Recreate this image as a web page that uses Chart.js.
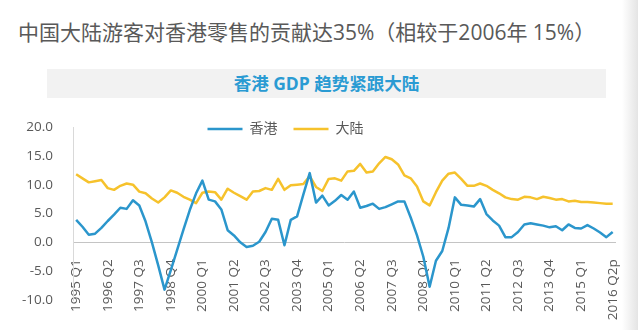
<!DOCTYPE html>
<html>
<head>
<meta charset="utf-8">
<script src="https://cdn.jsdelivr.net/npm/chart.js@4.4.1/dist/chart.umd.min.js"></script>
<style>
  html, body { margin: 0; padding: 0; background: #fff; width: 638px; height: 330px; overflow: hidden; }
  body { position: relative; font-family: 'Open Sans', 'Noto Sans CJK SC', sans-serif; }
  #headline { position: absolute; left: 18px; top: 17px; font-size: 21px; line-height: 30px; color: #595959; white-space: nowrap; }
  #titlebar { position: absolute; left: 47px; top: 69px; width: 559px; height: 29px; background: #f2f2f2;
              text-align: center; line-height: 29px; font-size: 17.5px; font-weight: bold; color: #2a9bd3; }
  #edge { position: absolute; right: 0; top: 0; width: 16px; height: 330px; background: linear-gradient(to right, #fff, #e4e4e4); }
  #wrap { position: absolute; left: 0; top: 60px; width: 638px; height: 270px; }
</style>
</head>
<body>
<div id="headline">中国大陆游客对香港零售的贡献达35%（相较于2006年 15%）</div>
<div id="titlebar">香港 GDP 趋势紧跟大陆</div>
<div id="edge"></div>
<div id="wrap"><canvas id="gdp-chart"></canvas></div>
<script>
// 季度实际 GDP 同比增长 (%)，1995 Q1 – 2016 Q2
const HK_GDP = [
  3.9, 2.7, 1.3, 1.5, 2.5, 3.7, 4.8, 6.0, 5.8, 7.3,
  6.4, 3.6, 0.0, -4.0, -8.2, -4.8, -1.3, 2.2, 5.6, 8.5,
  10.7, 7.4, 7.1, 5.7, 2.1, 1.2, 0.0, -0.8, -0.6, 0.1,
  1.8, 4.1, 3.9, -0.5, 3.9, 4.5, 8.3, 12.0, 6.9, 8.1,
  6.4, 7.2, 8.2, 7.4, 8.8, 6.0, 6.3, 6.7, 5.8, 6.1,
  6.6, 7.1, 7.1, 4.3, 1.2, -2.5, -7.7, -3.2, -1.5, 2.5,
  7.8, 6.5, 6.4, 6.2, 7.5, 4.9, 3.8, 2.9, 0.9, 0.9,
  1.8, 3.1, 3.3, 3.1, 2.9, 2.6, 2.8, 2.1, 3.1, 2.5,
  2.4, 3.0, 2.4, 1.7, 0.9, 1.8
];
const CN_GDP = [
  11.8, 11.1, 10.4, 10.6, 10.8, 9.4, 9.1, 9.8, 10.2, 10.0,
  8.8, 8.5, 7.6, 6.9, 7.8, 9.0, 8.6, 7.9, 7.4, 6.8,
  8.6, 8.8, 8.7, 7.4, 9.3, 8.6, 8.0, 7.4, 8.8, 8.9,
  9.4, 9.1, 11.0, 9.1, 9.9, 10.0, 10.1, 11.5, 9.6, 8.9,
  11.0, 11.1, 10.7, 12.3, 12.4, 13.6, 12.1, 12.3, 13.7, 14.8,
  14.4, 13.5, 11.6, 11.1, 9.7, 7.1, 6.4, 8.7, 10.7, 11.9,
  12.1, 11.0, 9.8, 9.8, 10.2, 9.8, 9.1, 8.5, 7.8, 7.5,
  7.4, 7.9, 7.8, 7.5, 7.9, 7.7, 7.4, 7.5, 7.1, 7.2,
  7.0, 7.0, 6.9, 6.8, 6.7, 6.7
];

const FIRST_YEAR = 1995;
const LAST_LABEL = '2016 Q2p';
const LABEL_EVERY = 5;        // 每 5 个季度标一次
const Y_MIN = -10, Y_MAX = 20, Y_STEP = 5;

const HK_COLOR = '#2b96cc';
const CN_COLOR = '#f6c22c';
const TEXT_COLOR = '#595959';

const quarters = [];
for (let i = 0; i < HK_GDP.length; i++) {
  quarters.push(`${FIRST_YEAR + Math.floor(i / 4)} Q${i % 4 + 1}`);
}
quarters[quarters.length - 1] = LAST_LABEL;

// 图例放进绘图区顶部（与 20.0 同一高度）
const LEGEND_SHIFT = { x: -23, y: 19 };
const legendNudge = {
  id: 'legendNudge',
  afterLayout(chart) {
    const l = chart.legend;
    if (!l) return;
    l.left += LEGEND_SHIFT.x; l.right += LEGEND_SHIFT.x;
    l.top += LEGEND_SHIFT.y; l.bottom += LEGEND_SHIFT.y;
  }
};

const FONT = "'Open Sans', 'Noto Sans CJK SC', sans-serif";

function makeDataset(label, data, color) {
  return {
    label,
    data,
    borderColor: color,
    backgroundColor: color,
    borderWidth: 2.5,
    pointRadius: 0,
    tension: 0,
    borderJoinStyle: 'round',
    fill: false,
  };
}

new Chart(document.getElementById('gdp-chart').getContext('2d'), {
  type: 'line',
  data: {
    labels: quarters,
    datasets: [
      makeDataset('香港', HK_GDP, HK_COLOR),
      makeDataset('大陆', CN_GDP, CN_COLOR),
    ],
  },
  plugins: [legendNudge],
  options: {
    responsive: true,
    maintainAspectRatio: false,
    animation: false,
    layout: { padding: { top: 27, right: 21, bottom: 30, left: 0 } },
    scales: {
      x: {
        type: 'category',
        offset: true,
        position: { y: 0 },
        grid: { display: false },
        border: { color: '#c4c4c4', width: 1 },
        ticks: {
          autoSkip: false,
          minRotation: 90,
          maxRotation: 90,
          padding: 9,
          color: TEXT_COLOR,
          font: { family: FONT, size: 13.5 },
          callback: (v, i) => (i % LABEL_EVERY === 0 ? quarters[i] : ''),
        },
      },
      y: {
        min: Y_MIN,
        max: Y_MAX,
        grid: { display: false },
        border: { color: '#d9d9d9', width: 1 },
        afterFit: scale => { scale.width = 73; },
        ticks: {
          stepSize: Y_STEP,
          padding: 12,
          color: TEXT_COLOR,
          font: { family: FONT, size: 13.5 },
          callback: v => v.toFixed(1),
        },
      },
    },
    plugins: {
      legend: {
        position: 'top',
        labels: {
          usePointStyle: true,
          pointStyle: 'line',
          pointStyleWidth: 35,
          padding: 16,
          color: TEXT_COLOR,
          font: { family: FONT, size: 14 },
        },
      },
      tooltip: { enabled: false },
    },
  },
});
</script>
</body>
</html>
